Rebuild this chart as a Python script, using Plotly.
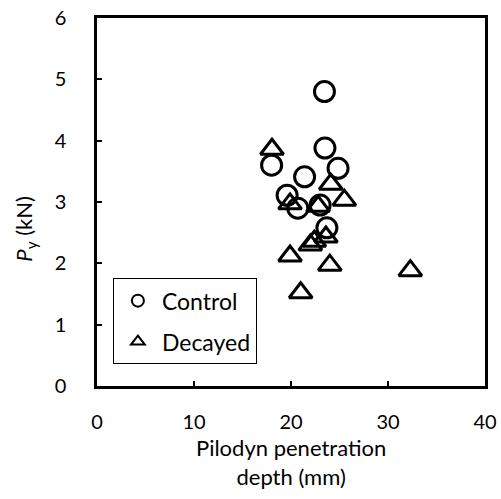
import plotly.graph_objects as go

control_x = [23.45, 23.5, 24.85, 18.0, 21.4, 19.6, 20.7, 23.0, 23.7]
control_y = [4.80, 3.88, 3.55, 3.60, 3.41, 3.11, 2.90, 2.95, 2.58]

decayed_x = [18.04, 24.1, 25.5, 19.9, 22.8, 23.6, 22.0, 22.4, 19.9, 24.0, 21.0, 32.3]
decayed_y = [3.86, 3.29, 3.03, 2.97, 2.93, 2.43, 2.30, 2.36, 2.12, 1.97, 1.52, 1.88]

x_ticks = [0, 10, 20, 30, 40]
y_ticks = [0, 1, 2, 3, 4, 5, 6]

FONT = "Lato"

fig = go.Figure()
fig.add_trace(go.Scatter(
    x=control_x, y=control_y, mode="markers", name="Control", legendgroup="c",
    marker=dict(symbol="circle-open", size=20, color="black", line=dict(width=3, color="black")),
))
fig.add_trace(go.Scatter(
    x=decayed_x, y=decayed_y, mode="markers", name="Decayed", legendgroup="d",
    marker=dict(symbol="triangle-up-open", size=20, color="black", line=dict(width=3, color="black")),
))

axis_common = dict(
    showgrid=False, zeroline=False, showline=True, linecolor="black", linewidth=2.5,
    mirror=True, ticks="inside", ticklen=5, tickwidth=2, tickcolor="black",
    tickfont=dict(family=FONT, size=20, color="black"), automargin=False,
)

fig.update_layout(
    width=501, height=499,
    margin=dict(l=97, r=16, t=18, b=113),
    paper_bgcolor="white", plot_bgcolor="white",
    font=dict(family=FONT, color="black"),
    xaxis=dict(range=[0, 40], tickvals=x_ticks, ticklabelstandoff=16, **axis_common),
    yaxis=dict(range=[0, 6], tickvals=y_ticks, ticklabelstandoff=24, **axis_common),
    legend=dict(x=0.041, y=0.293, xanchor="left", yanchor="top",
                bgcolor="white", bordercolor="black", borderwidth=1,
                font=dict(family=FONT, size=23, color="black"), itemsizing="constant",
                itemwidth=38, tracegroupgap=8, entrywidth=150, entrywidthmode="pixels"),
    annotations=[
        dict(text="Pilodyn penetration<br>depth (mm)", xref="paper", yref="paper",
             x=0.5, y=-0.125, xanchor="center", yanchor="top", showarrow=False,
             font=dict(family=FONT, size=22, color="black")),
        dict(text="<i>P</i><sub>y</sub> (kN)", xref="paper", yref="paper",
             x=-0.186, y=0.427, xanchor="center", yanchor="middle", showarrow=False,
             textangle=-90, font=dict(family=FONT, size=22, color="black")),
    ],
)

fig.write_html("out.html")
